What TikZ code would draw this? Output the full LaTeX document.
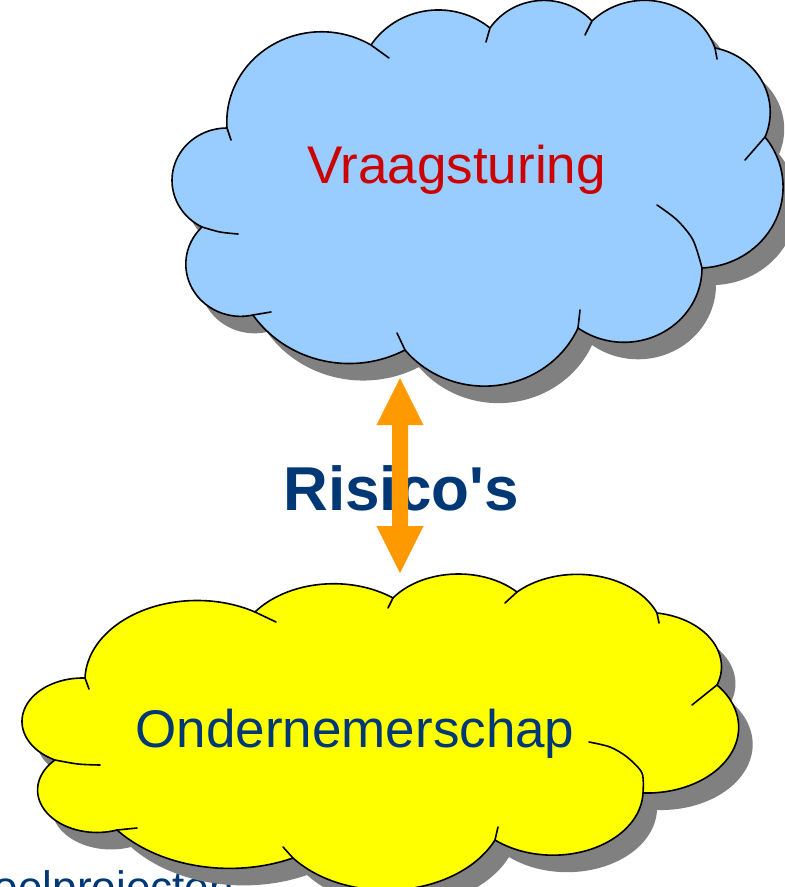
\documentclass[tikz,border=0pt]{standalone}
\usepackage{fontspec}
\setmainfont{Liberation Sans}[Ligatures=TeXOff]
\usetikzlibrary{calc}
\definecolor{skyfill}{HTML}{99CCFF}
\definecolor{sunfill}{HTML}{FFFF00}
\definecolor{shadowc}{HTML}{808080}
\definecolor{redtxt}{HTML}{CC0000}
\definecolor{bluetxt}{HTML}{003876}
\definecolor{orangec}{HTML}{FF9900}
% cloud outline built from elliptic bumps through three points (start, middle, end), in pixels;
% \kk is the width/height ratio of the bumps
\def\kk{1}
\newcommand\startcloud[2]{\gdef\cloudacc{(#1,#2)}}
\newcommand\mkbump[6]{%
\pgfmathsetmacro\Ax{#1/100}\pgfmathsetmacro\Ay{#2*\kk/100}%
\pgfmathsetmacro\Bx{#3/100}\pgfmathsetmacro\By{#4*\kk/100}%
\pgfmathsetmacro\Cx{#5/100}\pgfmathsetmacro\Cy{#6*\kk/100}%
\pgfmathsetmacro\Dd{2*(\Ax*(\By-\Cy)+\Bx*(\Cy-\Ay)+\Cx*(\Ay-\By))}%
\pgfmathsetmacro\Aa{\Ax*\Ax+\Ay*\Ay}%
\pgfmathsetmacro\Bb{\Bx*\Bx+\By*\By}%
\pgfmathsetmacro\Cc{\Cx*\Cx+\Cy*\Cy}%
\pgfmathsetmacro\Ux{(\Aa*(\By-\Cy)+\Bb*(\Cy-\Ay)+\Cc*(\Ay-\By))/\Dd}%
\pgfmathsetmacro\Uy{(\Aa*(\Cx-\Bx)+\Bb*(\Ax-\Cx)+\Cc*(\Bx-\Ax))/\Dd}%
\pgfmathsetmacro\Rr{100*veclen(\Ax-\Ux,\Ay-\Uy)}%
\pgfmathsetmacro\Sa{atan2(\Ay-\Uy,\Ax-\Ux)}%
\pgfmathsetmacro\Ma{atan2(\By-\Uy,\Bx-\Ux)}%
\pgfmathsetmacro\Ea{atan2(\Cy-\Uy,\Cx-\Ux)}%
\pgfmathsetmacro\Eone{Mod(\Ea-\Sa,360)}%
\pgfmathsetmacro\Mone{Mod(\Ma-\Sa,360)}%
\pgfmathsetmacro\Ee{(\Mone<\Eone) ? (\Sa+\Eone) : (\Sa+\Eone-360)}%
\pgfmathsetmacro\Uxp{100*\Ux}\pgfmathsetmacro\Uyp{100*\Uy/\kk}%
\pgfmathsetmacro\Ry{\Rr/\kk}%
\xdef\cloudacc{\unexpanded\expandafter{\cloudacc} -- plot[domain=\Sa:\Ee, samples=40, smooth, variable=\noexpand\myang] ({\Uxp+\Rr*cos(\noexpand\myang)},{\Uyp+\Ry*sin(\noexpand\myang)})}%
}
\newcommand\finishcloud[1]{\xdef#1{\unexpanded\expandafter{\cloudacc} -- cycle}}
% upper cloud bumps
\def\kk{1.05}
\startcloud{227}{128}
\mkbump{227}{128}{282}{40}{371}{45}
\mkbump{371}{45}{420}{12}{490}{28}
\mkbump{490}{28}{535}{1}{592}{21}
\mkbump{592}{21}{655}{1}{715}{48}
\mkbump{715}{48}{763}{83}{765}{137}
\mkbump{765}{137}{782}{200}{702}{268}
\mkbump{702}{268}{667}{330}{578}{328}
\mkbump{578}{328}{490}{386}{405}{350}
\mkbump{405}{350}{330}{362}{253}{315}
\mkbump{253}{315}{187}{275}{202}{227}
\mkbump{202}{227}{172}{180}{227}{128}
\finishcloud\topcloud
% lower cloud bumps
\def\kk{1.4}
\startcloud{85}{678}
\mkbump{85}{678}{160}{605}{255}{612}
\mkbump{255}{612}{325}{584}{393}{598}
\mkbump{393}{598}{457}{574}{517}{592}
\mkbump{517}{592}{590}{575}{657}{613}
\mkbump{657}{613}{710}{638}{717}{685}
\mkbump{717}{685}{737}{740}{643}{793}
\mkbump{643}{793}{597}{847}{495}{840}
\mkbump{495}{840}{395}{890}{293}{858}
\mkbump{293}{858}{217}{868}{117}{830}
\mkbump{117}{830}{38}{795}{55}{760}
\mkbump{55}{760}{22}{720}{85}{678}
\finishcloud\botcloud
\tikzset{
  outline/.style={draw=black, line width=1.6pt, line join=round, line cap=round},
  cloudtext/.style={font=\fontsize{53}{60}\selectfont, inner sep=0pt, anchor=base},
}
\begin{document}
\begin{tikzpicture}[x=1pt, y=-1pt]
\useasboundingbox (0,0) rectangle (785,887);
\clip (0,0) rectangle (785,887);
\fill[white] (0,0) rectangle (785,887);
% text partly hidden behind the lower cloud
\node[font=\fontsize{44}{50}\selectfont, text=bluetxt, inner sep=0pt, anchor=base west] (doel) at (-38,902) {Doelprojecten};
% lower cloud
\begin{scope}[shift={(14,17)}]
\fill[shadowc] \botcloud;
\end{scope}
\fill[sunfill] \botcloud;
\draw[outline] \botcloud;
\draw[outline] (85,678) -- (89,689);
\draw[outline] (255,612) -- (276,622);
\draw[outline] (393,598) -- (388,608);
\draw[outline] (517,592) -- (505,603);
\draw[outline] (657,613) -- (659,623);
\draw[outline] (717,685) -- (692,705);
\draw[outline] plot[smooth] coordinates {(643,793) (642,773) (627,757) (610,747) (589,742)};
\draw[outline] (495,840) -- (498,827);
\draw[outline] (293,858) -- (283,847);
\draw[outline] (117,830) -- (137,828);
\draw[outline] plot[smooth] coordinates {(55,760) (78,764) (100,765)};
% upper cloud
\begin{scope}[shift={(14,17)}]
\fill[shadowc] \topcloud;
\end{scope}
\fill[skyfill] \topcloud;
\draw[outline] \topcloud;
\draw[outline] (227,128) -- (231,140);
\draw[outline] (371,45) -- (389,58);
\draw[outline] (490,28) -- (486,42);
\draw[outline] (592,21) -- (585,35);
\draw[outline] (715,48) -- (717,59);
\draw[outline] (765,137) -- (745,160);
\draw[outline] plot[smooth] coordinates {(702,268) (693,240) (677,220) (657,205)};
\draw[outline] (578,328) -- (580,310);
\draw[outline] (405,350) -- (397,333);
\draw[outline] (253,315) -- (271,312);
\draw[outline] plot[smooth] coordinates {(202,227) (220,232) (238,234)};
% labels
\node[cloudtext, text=redtxt] (vraag) at (456.5,183) {Vraagsturing};
\node[cloudtext, text=bluetxt] (onder) at (355,747) {Ondernemerschap};
\node[font=\fontsize{62}{70}\selectfont\bfseries, text=bluetxt, inner sep=0pt, anchor=base] (risico) at (401,510) {Risico's};
% double arrow
\coordinate (atip) at (400,378);
\coordinate (abot) at (400,573);
\fill[orangec] (atip) -- ($(atip)+(23.5,47)$) -- ($(atip)+(8,47)$) -- ($(abot)+(8,-47)$) -- ($(abot)+(23.5,-47)$) -- (abot)
  -- ($(abot)+(-23.5,-47)$) -- ($(abot)+(-8,-47)$) -- ($(atip)+(-8,47)$) -- ($(atip)+(-23.5,47)$) -- cycle;
\end{tikzpicture}
\end{document}
